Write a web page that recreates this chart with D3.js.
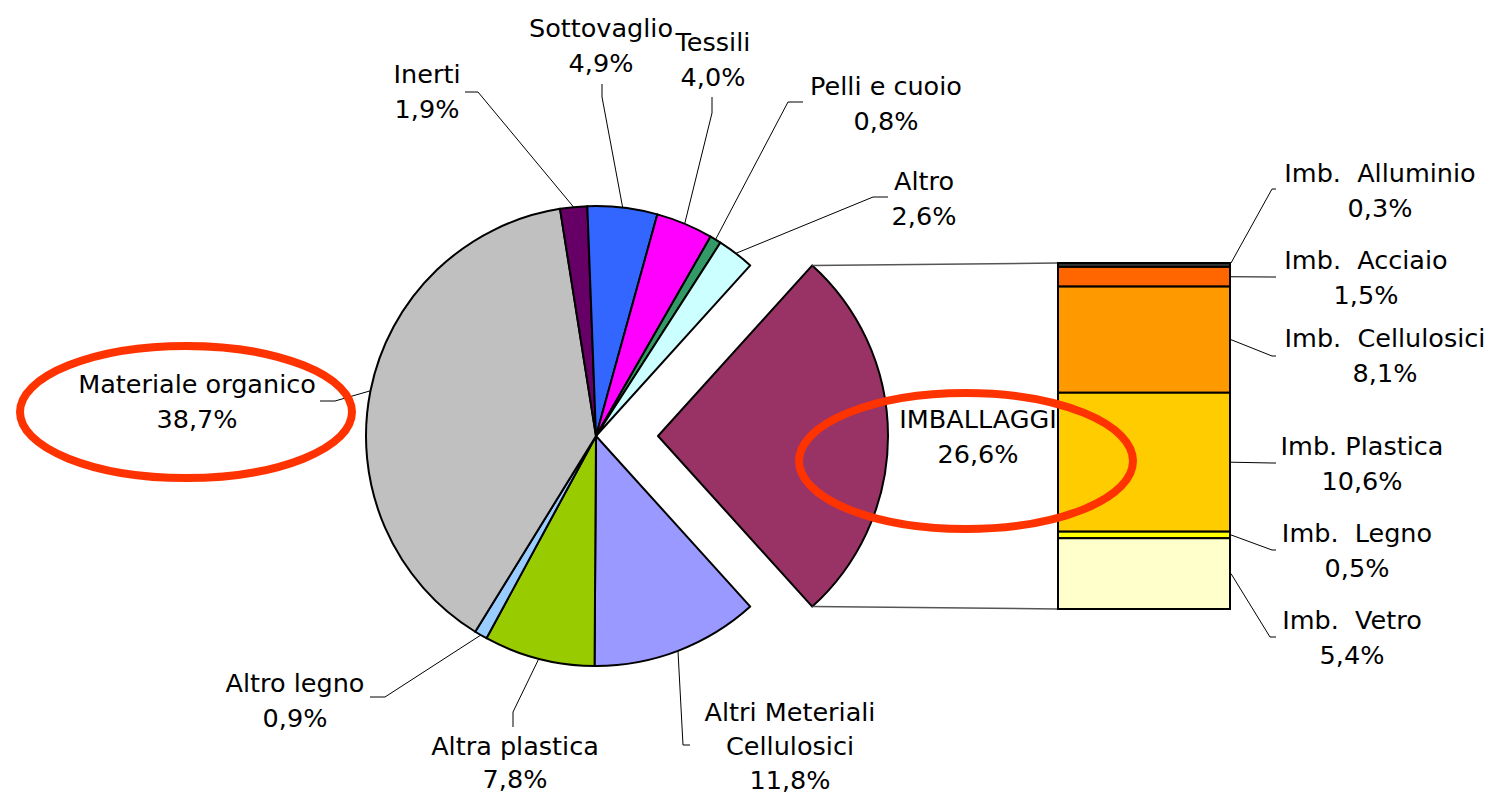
<!DOCTYPE html>
<html>
<head>
<meta charset="utf-8">
<script src="https://cdn.jsdelivr.net/npm/d3@7"></script>
<style>
  html, body { margin: 0; padding: 0; background: #fff; }
  svg { display: block; }
  text { font-family: "DejaVu Sans", Verdana, sans-serif; font-size: 25.5px; fill: #000; white-space: pre; }
</style>
</head>
<body>
<svg id="chart" width="1494" height="796"></svg>
<script>
// Composizione merceologica dei rifiuti: torta principale + barra di dettaglio degli imballaggi
const pieNames = ["IMBALLAGGI", "Altri Meteriali\nCellulosici", "Altra plastica", "Altro legno",
  "Materiale organico", "Inerti", "Sottovaglio", "Tessili", "Pelli e cuoio", "Altro"];
const pieValues = [26.6, 11.8, 7.8, 0.9, 38.7, 1.9, 4.9, 4.0, 0.8, 2.6];
const pieColors = ["#993366", "#9999FF", "#99CC00", "#99CCFF", "#C0C0C0",
  "#660066", "#3366FF", "#FF00FF", "#339966", "#CCFFFF"];

const barNames = ["Imb.  Alluminio", "Imb.  Acciaio", "Imb.  Cellulosici",
  "Imb. Plastica", "Imb.  Legno", "Imb.  Vetro"];
const barValues = [0.3, 1.5, 8.1, 10.6, 0.5, 5.4];
const barColors = ["#333333", "#FF6600", "#FF9900", "#FFCC00", "#FFFF00", "#FFFFCC"];

// Label placement: text centre x, first baseline y, leader end (a) and elbow (e)
const pieLabelLayout = [
  { cx: 978, y: 428 },
  { cx: 790, y: 721, gap: 34, a: [690, 745], e: [683, 745] },
  { cx: 515, y: 755, gap: 33, a: [513, 727], e: [513, 712] },
  { cx: 295, y: 692, a: [370, 697], e: [385, 697] },
  { cx: 197, y: 393, a: [320, 401], e: [335, 401] },
  { cx: 427, y: 83,  a: [465, 92],  e: [478, 92] },
  { cx: 601, y: 37,  a: [602, 84],  e: [602, 97] },
  { cx: 713, y: 51,  a: [712, 97],  e: [712, 113] },
  { cx: 886, y: 95,  a: [803, 102], e: [788, 102] },
  { cx: 924, y: 190, a: [888, 197], e: [873, 197] }
];
const barLabelLayout = [
  { cx: 1380, y: 182, a: [1276, 189], e: [1272, 189] },
  { cx: 1366, y: 269, a: [1276, 277], e: [1272, 277] },
  { cx: 1385, y: 347, a: [1276, 356], e: [1272, 356] },
  { cx: 1362, y: 455, a: [1276, 463], e: [1272, 463] },
  { cx: 1357, y: 542, a: [1276, 550], e: [1272, 550] },
  { cx: 1352, y: 629, a: [1276, 637], e: [1270, 637] }
];

const lineGap = 35;
const fmt = v => v.toFixed(1).replace(".", ",") + "%";

const svg = d3.select("#chart");

// ---- Pie ----
const cx = 596, cy = 436, r = 230, explode = 62;
const total = d3.sum(pieValues);
const detailSpan = pieValues[0] / total * 2 * Math.PI;
const start = Math.PI / 2 - detailSpan / 2;

const pie = d3.pie().sort(null).value(d => d)
  .startAngle(start).endAngle(start + 2 * Math.PI);
const arcs = pie(pieValues);
const arc = d3.arc().innerRadius(0).outerRadius(r);
const rim = d3.arc().innerRadius(r).outerRadius(r);

const pieG = svg.append("g").attr("transform", `translate(${cx},${cy})`);

// connectors between the exploded slice and the detail bar
const barX = 1058, barW = 172, barTop = 263, barBottom = 609;
const d0 = arcs[0];
const corner = a => [cx + explode + r * Math.sin(a), cy - r * Math.cos(a)];
const cTop = corner(d0.startAngle), cBot = corner(d0.endAngle);
svg.append("line").attr("x1", cTop[0]).attr("y1", cTop[1]).attr("x2", barX).attr("y2", barTop)
  .attr("stroke", "#555").attr("stroke-width", 1.5);
svg.append("line").attr("x1", cBot[0]).attr("y1", cBot[1]).attr("x2", barX).attr("y2", barBottom)
  .attr("stroke", "#555").attr("stroke-width", 1.5);

pieG.selectAll("path.slice").data(arcs).join("path")
  .attr("class", "slice")
  .attr("d", arc)
  .attr("transform", (d, i) => i === 0 ? `translate(${explode},0)` : null)
  .attr("fill", (d, i) => pieColors[i])
  .attr("stroke", "#000").attr("stroke-width", 2).attr("stroke-linejoin", "round");

// pie leader lines
arcs.forEach((d, i) => {
  const L = pieLabelLayout[i];
  if (!L.a) return;
  const p = rim.centroid(d);
  const pts = [L.a, L.e, [cx + p[0], cy + p[1]]];
  svg.append("path").attr("d", d3.line()(pts))
    .attr("fill", "none").attr("stroke", "#000").attr("stroke-width", 1);
});

// ---- Detail bar ----
const y = d3.scaleLinear().domain([0, d3.sum(barValues)]).range([barTop, barBottom]);
const stacked = [];
let acc = 0;
barValues.forEach((v, i) => { stacked.push({ i, y0: acc, y1: acc + v }); acc += v; });

svg.append("g").selectAll("rect").data(stacked).join("rect")
  .attr("x", barX).attr("width", barW)
  .attr("y", d => y(d.y0)).attr("height", d => y(d.y1) - y(d.y0))
  .attr("fill", d => barColors[d.i])
  .attr("stroke", "#000").attr("stroke-width", 2);

stacked.forEach(d => {
  const L = barLabelLayout[d.i];
  const my = (y(d.y0) + y(d.y1)) / 2;
  const pts = [[barX + barW + 1, d.i === 0 ? y(d.y0) : my], L.e, L.a];
  svg.append("path").attr("d", d3.line()(pts))
    .attr("fill", "none").attr("stroke", "#000").attr("stroke-width", 1);
});

// ---- Labels ----
function label(lines, L) {
  const t = svg.append("text").attr("text-anchor", "middle");
  const g = L.gap || lineGap;
  lines.forEach((s, k) => {
    t.append("tspan").attr("x", L.cx).attr("y", L.y + k * g).text(s);
  });
}
pieNames.forEach((n, i) => label([...n.split("\n"), fmt(pieValues[i])], pieLabelLayout[i]));
barNames.forEach((n, i) => label([n, fmt(barValues[i])], barLabelLayout[i]));

// ---- Highlight rings ----
const rings = [
  { cx: 186, cy: 412, rx: 166, ry: 66 },
  { cx: 966, cy: 461, rx: 167, ry: 68 }
];
svg.append("g").selectAll("ellipse").data(rings).join("ellipse")
  .attr("cx", d => d.cx).attr("cy", d => d.cy)
  .attr("rx", d => d.rx).attr("ry", d => d.ry)
  .attr("fill", "none").attr("stroke", "#FF3300").attr("stroke-width", 8);
</script>
</body>
</html>
